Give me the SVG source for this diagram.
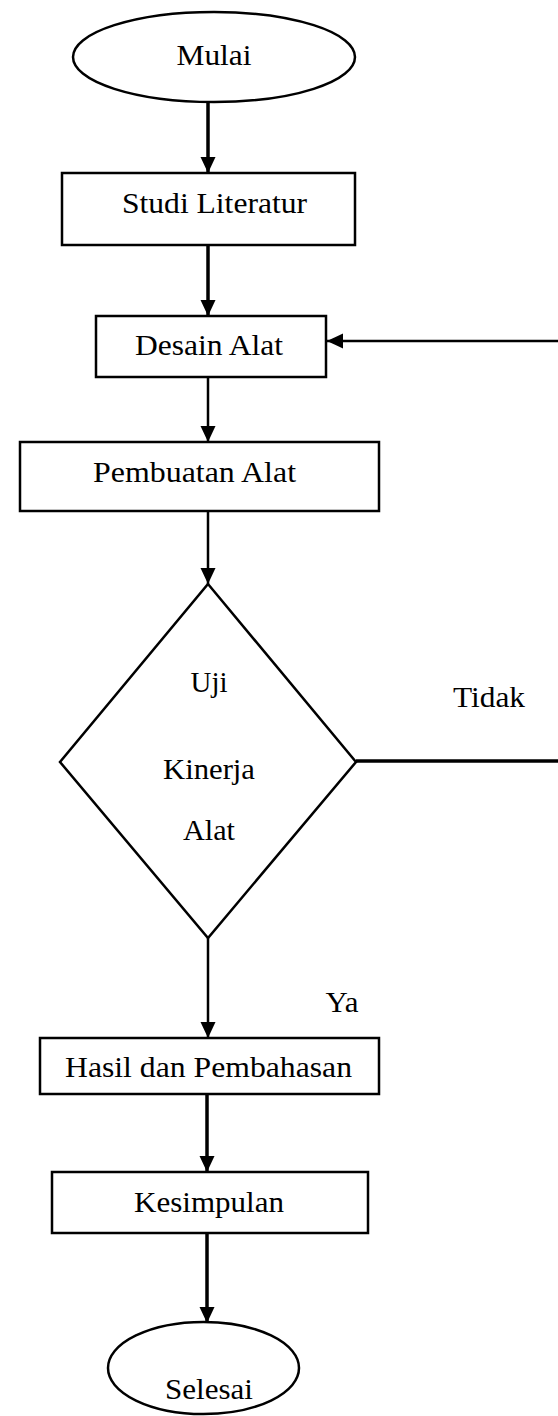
<svg xmlns="http://www.w3.org/2000/svg" width="558" height="1416" viewBox="0 0 558 1416">
<style>
.s{fill:#fff;stroke:#000;stroke-width:2.5}
.t{font-family:"Liberation Serif","Times New Roman",serif;font-size:30px;fill:#000;text-anchor:middle}
.c{fill:none;stroke:#000}
.k{stroke-width:3.5}
.n{stroke-width:2.5}
</style>
<defs>
<marker id="ah" markerUnits="userSpaceOnUse" markerWidth="17" markerHeight="16" refX="16" refY="7.5" orient="auto" viewBox="0 0 17 16">
<path d="M0,0 L16,7.5 L0,15 z" fill="#000"/>
</marker>
</defs>
<rect width="558" height="1416" fill="#fff"/>
<g id="connectors">
<line class="c k" x1="208" y1="102" x2="208" y2="173" marker-end="url(#ah)"/>
<line class="c k" x1="208" y1="245" x2="208" y2="316" marker-end="url(#ah)"/>
<line class="c n" x1="208" y1="377" x2="208" y2="442" marker-end="url(#ah)"/>
<line class="c n" x1="208" y1="511" x2="208" y2="584" marker-end="url(#ah)"/>
<line class="c n" x1="208" y1="938" x2="208" y2="1038" marker-end="url(#ah)"/>
<line class="c k" x1="207" y1="1094" x2="207" y2="1172" marker-end="url(#ah)"/>
<line class="c k" x1="207" y1="1233" x2="207" y2="1323" marker-end="url(#ah)"/>
<line class="c k" x1="356" y1="761" x2="558" y2="761"/>
<line class="c n" x1="558" y1="341" x2="327" y2="341" marker-end="url(#ah)"/>
<text class="t" x="489" y="707" textLength="72" lengthAdjust="spacingAndGlyphs">Tidak</text>
<text class="t" x="342" y="1012" textLength="33" lengthAdjust="spacingAndGlyphs">Ya</text>
</g>
<g id="mulai">
<ellipse class="s" cx="214" cy="57" rx="141" ry="45"/>
<text class="t" x="214" y="65" textLength="75" lengthAdjust="spacingAndGlyphs">Mulai</text>
</g>
<g id="studi">
<rect class="s" x="62" y="173" width="293" height="72"/>
<text class="t" x="214.5" y="213" textLength="185" lengthAdjust="spacingAndGlyphs">Studi Literatur</text>
</g>
<g id="desain">
<rect class="s" x="96" y="316" width="230" height="61"/>
<text class="t" x="209" y="355" textLength="148" lengthAdjust="spacingAndGlyphs">Desain Alat</text>
</g>
<g id="pembuatan">
<rect class="s" x="20" y="442" width="359" height="69"/>
<text class="t" x="194.5" y="482" textLength="203" lengthAdjust="spacingAndGlyphs">Pembuatan Alat</text>
</g>
<g id="uji">
<polygon class="s" points="208,584 356,762 208,938 60,762"/>
<text class="t" x="209" y="692" textLength="37" lengthAdjust="spacingAndGlyphs">Uji</text>
<text class="t" x="209" y="779" textLength="92" lengthAdjust="spacingAndGlyphs">Kinerja</text>
<text class="t" x="209" y="840" textLength="52" lengthAdjust="spacingAndGlyphs">Alat</text>
</g>
<g id="hasil">
<rect class="s" x="40" y="1038" width="339" height="56"/>
<text class="t" x="208.5" y="1077" textLength="287" lengthAdjust="spacingAndGlyphs">Hasil dan Pembahasan</text>
</g>
<g id="kesimpulan">
<rect class="s" x="52" y="1172" width="316" height="61"/>
<text class="t" x="209" y="1212" textLength="150" lengthAdjust="spacingAndGlyphs">Kesimpulan</text>
</g>
<g id="selesai">
<ellipse class="s" cx="203.5" cy="1368" rx="95.5" ry="46"/>
<text class="t" x="209" y="1399" textLength="88" lengthAdjust="spacingAndGlyphs">Selesai</text>
</g>
</svg>
